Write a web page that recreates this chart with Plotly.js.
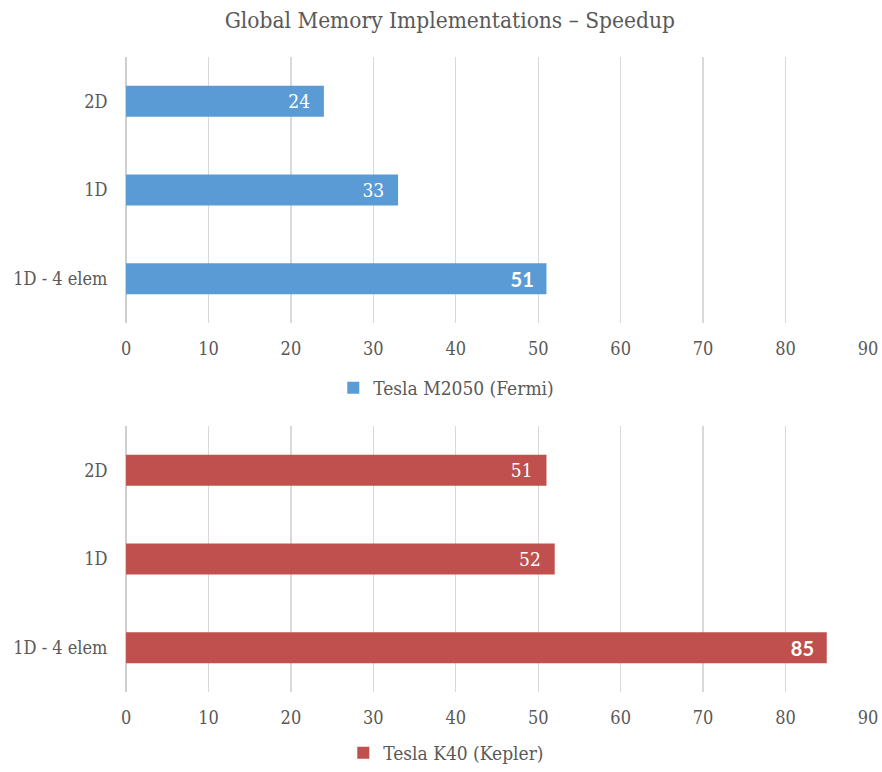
<!DOCTYPE html>
<html>
<head>
<meta charset="utf-8">
<script src="https://cdn.plot.ly/plotly-3.0.1.min.js"></script>
<style>
  html, body { margin: 0; padding: 0; background: #ffffff; }
  #chart { width: 882px; height: 772px; }
</style>
</head>
<body>
<div id="chart"></div>
<script>
// Speedup of the global-memory kernels on two GPU generations
const categories = ['2D', '1D', '1D - 4 elem'];
const fermiSpeedup = [24, 33, 51];
const keplerSpeedup = [51, 52, 85];
const seriesNames = ['Tesla M2050 (Fermi)', 'Tesla K40 (Kepler)'];
const xTickValues = [0, 10, 20, 30, 40, 50, 60, 70, 80, 90];
const chartTitle = 'Global Memory Implementations \u2013 Speedup';

const SERIF = '"DejaVu Serif Condensed", "DejaVu Serif", serif';
const SANS_BOLD = 'Lato, "Open Sans", sans-serif';
const GREY = '#595959';
const GRID = '#d9d9d9';

// the fastest variant of each GPU gets a bold label
function labelFonts(values) {
  const top = Math.max(...values);
  return {
    family: values.map(v => v === top ? SANS_BOLD : SERIF),
    size: values.map(v => v === top ? 20 : 19),
    weight: values.map(v => v === top ? 700 : 400),
    color: '#ffffff'
  };
}

function barTrace(values, name, color, xa, ya, legendId) {
  return {
    type: 'bar',
    orientation: 'h',
    y: categories,
    x: values,
    name: name,
    xaxis: xa,
    yaxis: ya,
    legend: legendId,
    width: 0.35,
    marker: { color: color, line: { width: 0 } },
    texttemplate: '%{x}\u00a0\u00a0',
    textposition: 'inside',
    insidetextanchor: 'end',
    constraintext: 'none',
    textfont: labelFonts(values),
    hoverinfo: 'x+y'
  };
}

const data = [
  barTrace(fermiSpeedup, seriesNames[0], '#5B9BD5', 'x', 'y', 'legend'),
  barTrace(keplerSpeedup, seriesNames[1], '#C0504D', 'x2', 'y2', 'legend2')
];

function xAxis(anchor) {
  return {
    domain: [0.1429, 0.9841],
    anchor: anchor,
    range: [0, 90],
    tickvals: xTickValues,
    showgrid: true,
    gridcolor: GRID,
    gridwidth: 1.3,
    zeroline: true,
    zerolinecolor: '#cfcfcf',
    zerolinewidth: 2,
    showline: false,
    ticks: 'outside',
    ticklen: 9,
    tickcolor: 'rgba(0,0,0,0)',
    tickfont: { family: SERIF, size: 18, color: GREY },
    fixedrange: true
  };
}

function yAxis(anchor, domain) {
  return {
    domain: domain,
    anchor: anchor,
    type: 'category',
    categoryorder: 'array',
    categoryarray: categories,
    autorange: 'reversed',
    showgrid: false,
    zeroline: false,
    showline: false,
    ticks: 'outside',
    ticklen: 14,
    tickcolor: 'rgba(0,0,0,0)',
    tickfont: { family: SERIF, size: 18, color: GREY },
    fixedrange: true
  };
}

const legendBase = {
  orientation: 'h',
  xanchor: 'center',
  x: 0.506,
  font: { family: SERIF, size: 19, color: GREY },
  bgcolor: 'rgba(0,0,0,0)',
  itemclick: false,
  itemdoubleclick: false
};

const layout = {
  width: 882,
  height: 772,
  margin: { l: 0, r: 0, t: 0, b: 0 },
  paper_bgcolor: '#ffffff',
  plot_bgcolor: '#ffffff',
  title: {
    text: chartTitle,
    x: 0.51,
    xanchor: 'center',
    y: 0.974,
    yanchor: 'middle',
    font: { family: SERIF, size: 22.5, color: GREY }
  },
  xaxis: xAxis('y'),
  yaxis: yAxis('x', [0.5816, 0.9262]),
  xaxis2: xAxis('y2'),
  yaxis2: yAxis('x2', [0.1036, 0.4482]),
  legend: Object.assign({}, legendBase, { y: 0.4975, yanchor: 'middle' }),
  legend2: Object.assign({}, legendBase, { y: 0, yanchor: 'bottom' }),
  showlegend: true,
  bargap: 0.65
};

Plotly.newPlot('chart', data, layout, { displayModeBar: false, staticPlot: true });
</script>
</body>
</html>
